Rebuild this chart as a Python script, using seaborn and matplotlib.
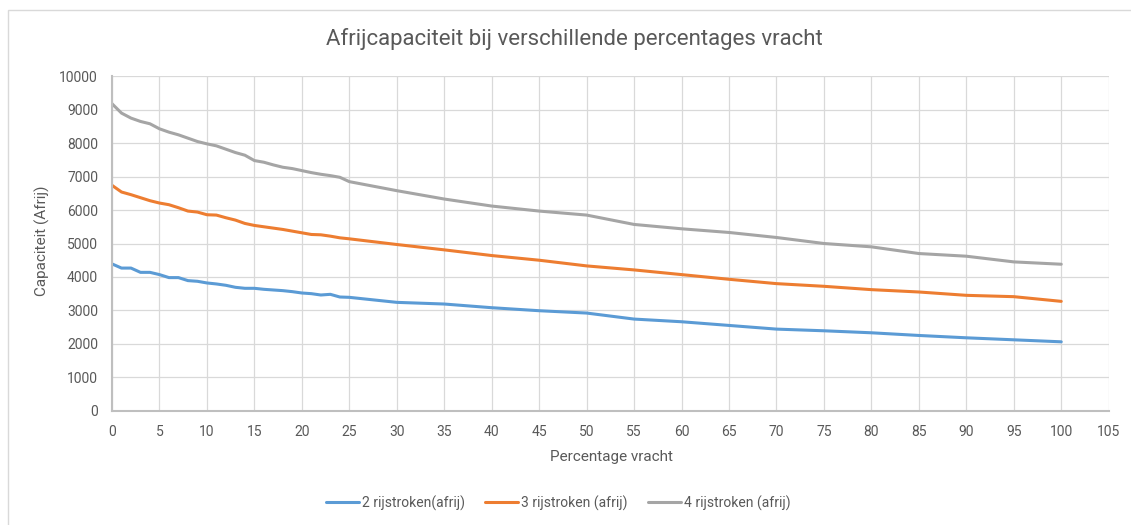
import numpy as np
import pandas as pd
import matplotlib
matplotlib.use("Agg")
import matplotlib.pyplot as plt
import seaborn as sns
from matplotlib.patches import Rectangle

# ---- data ----
x_vals = list(range(0, 26)) + [30, 35, 40, 45, 50, 55, 60, 65, 70, 75, 80, 85, 90, 95, 100]

cap_2 = [4390, 4265, 4265, 4137, 4137, 4070, 3980, 3980, 3890, 3870,
         3820, 3790, 3750, 3690, 3660, 3660, 3630, 3610, 3590, 3560,
         3520, 3500, 3460, 3480, 3400, 3390,
         3240, 3190, 3080, 2990, 2920, 2740, 2660, 2550, 2440, 2390,
         2330, 2250, 2180, 2120, 2060]

cap_3 = [6740, 6540, 6460, 6370, 6280, 6210, 6160, 6070, 5970, 5940,
         5860, 5850, 5770, 5700, 5600, 5540, 5500, 5460, 5420, 5370,
         5320, 5270, 5260, 5220, 5170, 5140,
         4970, 4810, 4640, 4500, 4330, 4210, 4070, 3930, 3800, 3720,
         3620, 3550, 3450, 3410, 3270]

cap_4 = [9180, 8900, 8750, 8650, 8580, 8430, 8330, 8250, 8150, 8050,
         7980, 7920, 7820, 7720, 7640, 7480, 7430, 7350, 7280, 7240,
         7180, 7120, 7070, 7030, 6980, 6850,
         6580, 6330, 6120, 5970, 5850, 5570, 5440, 5330, 5180, 5000,
         4900, 4700, 4620, 4450, 4380]

series_names = ["2 rijstroken(afrij)", "3 rijstroken (afrij)", "4 rijstroken (afrij)"]
colors = ["#5B9BD5", "#ED7D31", "#A5A5A5"]

title = "Afrijcapaciteit bij verschillende percentages vracht"
xlabel = "Percentage vracht"
ylabel = "Capaciteit (Afrij)"
x_ticks = list(range(0, 106, 5))
y_ticks = list(range(0, 10001, 1000))

df = pd.concat([
    pd.DataFrame({"x": x_vals, "y": vals, "serie": name})
    for vals, name in zip([cap_2, cap_3, cap_4], series_names)
])

# ---- style ----
sns.set_theme(style="white")
plt.rcParams["font.family"] = ["Roboto", "DejaVu Sans"]
text_col = "#595959"

fig = plt.figure(figsize=(11.31, 5.25), dpi=100)
ax = fig.add_axes([112 / 1131, 1 - 410.7 / 525, (1108.7 - 112) / 1131, (410.7 - 76.3) / 525])

# chart-area border (extends past right/bottom edge like the reference)
fig.patches.append(Rectangle((7.5 / 1131, -0.1), 1.2, (525 - 10) / 525 + 0.1,
                             transform=fig.transFigure, fill=False,
                             edgecolor="#D9D9D9", linewidth=1.0, zorder=0))

sns.lineplot(data=df, x="x", y="y", hue="serie", palette=colors,
             linewidth=2.2, ax=ax, legend=False, estimator=None, sort=False)

ax.set_xlim(0, 105)
ax.set_ylim(0, 10000)
ax.set_xticks(x_ticks)
ax.set_yticks(y_ticks)
ax.grid(True, color="#D9D9D9", linewidth=0.9)
ax.set_axisbelow(True)
for s in ["top", "right"]:
    ax.spines[s].set_visible(False)
for s in ["left", "bottom"]:
    ax.spines[s].set_color("#BFBFBF")
    ax.spines[s].set_linewidth(1.5)
ax.tick_params(axis="both", length=0, labelsize=10, labelcolor=text_col, pad=10)
ax.set_xlabel("")
ax.set_ylabel("")

fig.text(574 / 1131, 1 - 39 / 525, title,
         ha="center", va="center", fontsize=16, color=text_col)
fig.text(611 / 1131, 1 - 457 / 525, xlabel, ha="center", va="center",
         fontsize=11, color=text_col)
fig.text(42 / 1131, 1 - 241 / 525, ylabel, ha="center", va="center",
         rotation=90, fontsize=11, color=text_col)

handles = [plt.Line2D([], [], color=c, linewidth=2.2) for c in colors]
fig.legend(handles, series_names, loc="center", bbox_to_anchor=(558 / 1131, 1 - 503 / 525),
           ncol=3, frameon=False, fontsize=10, labelcolor=text_col,
           handlelength=2.4, handletextpad=0.2, columnspacing=1.45)

fig.savefig("out.png", dpi=100)
